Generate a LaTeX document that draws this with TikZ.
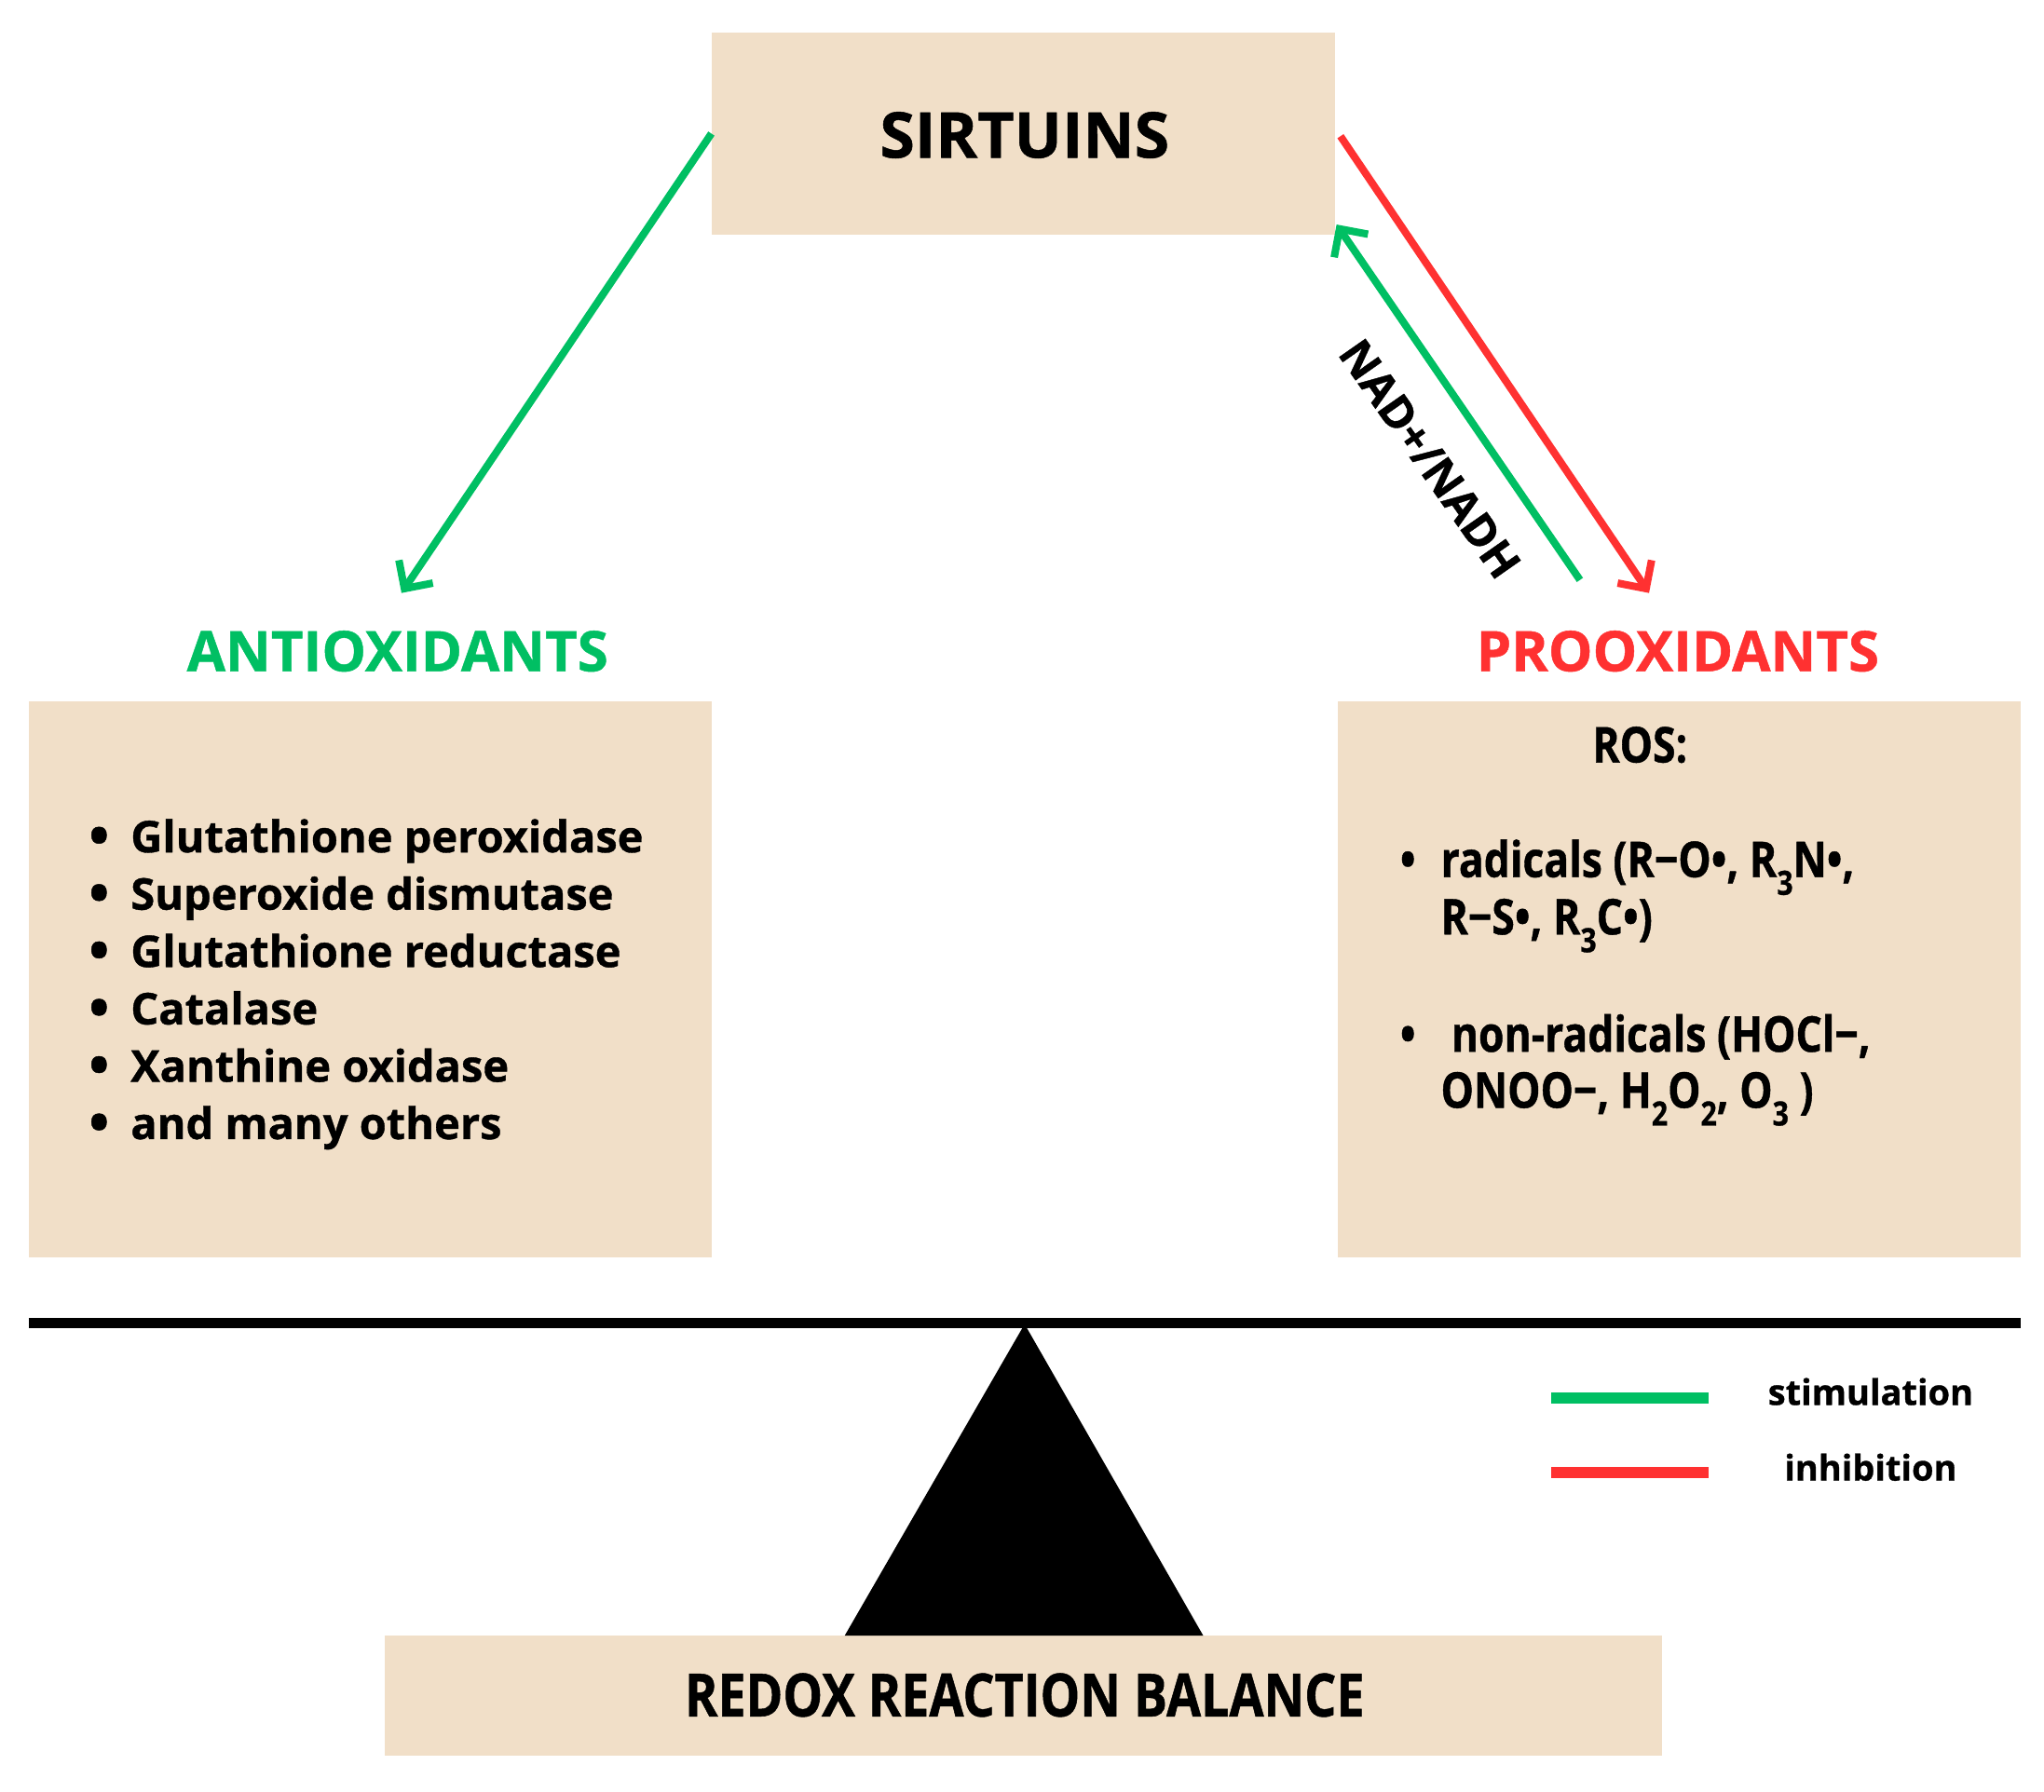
\documentclass[tikz,border=0pt]{standalone}
\usepackage{fontspec}
\usepackage{graphicx}
\setmainfont{Open Sans}[BoldFeatures={FakeBold=0.8}]
\newfontfamily\condfont{Open Sans}[FakeStretch=0.84,BoldFeatures={FakeBold=0.8}]
\usetikzlibrary{arrows.meta,calc,fit}
\definecolor{panel}{HTML}{F1DFC8}
\definecolor{stim}{HTML}{00BF63}
\definecolor{inh}{HTML}{FF3131}
\newcommand\lowsub[1]{\raisebox{-0.36em}{\fontsize{18}{18}\selectfont #1}}
\begin{document}
\begin{tikzpicture}[x=0.7pt,y=-0.7pt,
  panelbox/.style={fill=panel, draw=none, inner sep=0pt},
  bigtxt/.style={font=\fontsize{34}{40}\selectfont\bfseries, inner sep=0pt},
  titletxt/.style={font=\fontsize{30}{36}\selectfont\bfseries, inner sep=0pt},
  itemtxt/.style={font=\fontsize{23.5}{30}\selectfont\bfseries, inner sep=0pt},
  bultxt/.style={font=\fontsize{29}{30}\selectfont\bfseries, inner sep=0pt},
  rostxt/.style={font=\condfont\fontsize{26.5}{32}\selectfont\bfseries, inner sep=0pt},
  redoxtxt/.style={font=\condfont\fontsize{32}{36}\selectfont\bfseries, inner sep=0pt},
  legtxt/.style={font=\fontsize{19}{24}\selectfont\bfseries, inner sep=0pt},
  nadtxt/.style={font=\fontsize{24}{28}\selectfont\bfseries, inner sep=0pt},
  arr/.style={line width=4pt, -{Straight Barb[length=11pt,width=22pt]}}]
\useasboundingbox (0,0) rectangle (1568,1375);

% boxes
\node[panelbox, fit={(546,25) (1024,180)}] (sirt) {};
\node[panelbox, fit={(22,538) (546,965)}] (left) {};
\node[panelbox, fit={(1026,538) (1550,965)}] (right) {};
\node[panelbox, fit={(295,1255) (1275,1347)}] (bottom) {};

% titles
\node[bigtxt, anchor=base] (sirtt) at (786,121) {SIRTUINS};
\node[titletxt, anchor=base, text=stim] (anti) at (305,515) {ANTIOXIDANTS};
\node[titletxt, anchor=base, text=inh] (pro) at (1287,515) {PROOXIDANTS};

% left list
\foreach \t [count=\i] in {Glutathione peroxidase, Superoxide dismutase, Glutathione reductase, Catalase, Xanthine oxidase, and many others}{
  \node[bultxt, anchor=base] (lb\i) at (76,612+44*\i) {•};
  \node[itemtxt, anchor=base west] (li\i) at (100,610+44*\i) {\t};
}

% right list
\node[rostxt, anchor=base] (ros) at (1258,585) {ROS:};
\node[rostxt, anchor=base] (rb1) at (1080,673) {•};
\node[rostxt, anchor=base west] (r1) at (1105,673) {radicals (R−O•, R\lowsub{3}N•,};
\node[rostxt, anchor=base west] (r2) at (1105,717) {R−S•, R\lowsub{3}C•)};
\node[rostxt, anchor=base] (rb2) at (1080,807) {•};
\node[rostxt, anchor=base west] (r3) at (1113,807) {non-radicals (HOCl−,};
\node[rostxt, anchor=base west] (r4) at (1105,850) {ONOO−, H\lowsub{2}O\lowsub{2}, O\lowsub{3} )};

% arrows
\coordinate (atip) at (308,455);
\coordinate (ptip) at (1265,455);
\coordinate (nstart) at (1212,445);
\draw[arr, stim] (sirt.west) -- (atip);
\draw[arr, inh] ($(sirt.east)+(4,2)$) -- (ptip);
\draw[arr, stim] (nstart) -- ($(sirt.south east)+(1,-8)$);
\node[nadtxt, rotate=-55] (nad) at (1097,352) {NAD+/NADH};

% balance
\coordinate (bl) at (22,1015);
\coordinate (br) at (1550,1015);
\draw[line width=5.6pt] (bl) -- (br);
\fill (786,1016) -- (923,1255) -- (648,1255) -- cycle;
\node[redoxtxt, anchor=base] (redox) at (786,1317) {REDOX REACTION BALANCE};

% legend
\coordinate (g1) at (1190,1073);
\coordinate (g2) at (1311,1073);
\coordinate (h1) at (1190,1130);
\coordinate (h2) at (1311,1130);
\draw[stim, line width=6pt] (g1) -- (g2);
\draw[inh, line width=6pt] (h1) -- (h2);
\node[legtxt, anchor=base] (stimt) at (1435,1078) {stimulation};
\node[legtxt, anchor=base] (inht) at (1435,1136) {inhibition};
\end{tikzpicture}
\end{document}
